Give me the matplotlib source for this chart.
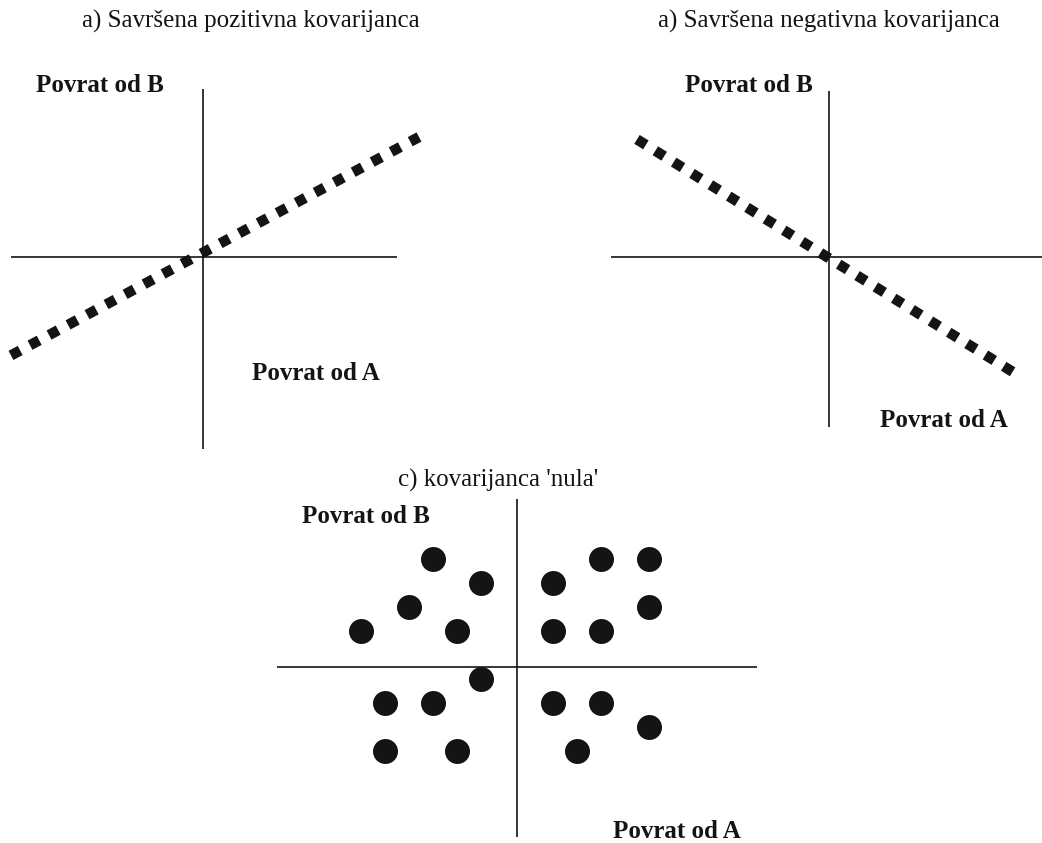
import matplotlib
matplotlib.use("Agg")
import matplotlib.pyplot as plt

W, H = 1042, 843
UNIT = 24.0  # pixels per data unit in every panel

plt.rcParams["font.family"] = ["Liberation Serif", "DejaVu Serif"]

# a) perfect positive covariance: returns of A vs returns of B
pos_arm_x = [-8.0, 8.1]
pos_arm_y = [-8.0, 7.0]
pos_ret_a = [-8.0, 9.0]
pos_ret_b = [-4.1, 5.0]

# b) perfect negative covariance
neg_arm_x = [-9.1, 8.9]
neg_arm_y = [-7.1, 6.9]
neg_ret_a = [-8.0, 8.0]
neg_ret_b = [4.9, -5.0]

# c) zero covariance: scattered observations
zero_arm_x = [-10.0, 10.0]
zero_arm_y = [-7.1, 7.0]
zero_ret_a = [-3.5, -1.5, -4.5, -6.5, -2.5, 3.5, 5.5, 1.5, 5.5, 1.5,
              3.5, -1.5, -5.5, -3.5, 1.5, 3.5, 5.5, -5.5, -2.5, 2.5]
zero_ret_b = [4.5, 3.5, 2.5, 1.5, 1.5, 4.5, 4.5, 3.5, 2.5, 1.5,
              1.5, -0.5, -1.5, -1.5, -1.5, -1.5, -2.5, -3.5, -3.5, -3.5]

titles = ["a) Savršena pozitivna kovarijanca",
          "a) Savršena negativna kovarijanca",
          "c) kovarijanca 'nula'"]
label_a = "Povrat od A"
label_b = "Povrat od B"

INK = "#141414"

fig = plt.figure(figsize=(W / 100, H / 100), dpi=100)
fig.patch.set_facecolor("white")


def panel_axes(ox, oy):
    # full-figure axes whose origin sits at pixel (ox, oy)
    ax = fig.add_axes([0, 0, 1, 1])
    ax.set_xlim(-ox / UNIT, (W - ox) / UNIT)
    ax.set_ylim(-(H - oy) / UNIT, oy / UNIT)
    ax.patch.set_alpha(0)
    ax.axis("off")
    return ax


def cross(ax, arm_x, arm_y):
    ax.plot(arm_x, [0, 0], color=INK, lw=1.2, solid_capstyle="butt")
    ax.plot([0, 0], arm_y, color=INK, lw=1.2, solid_capstyle="butt")


def fig_text(x, y, s, **kw):
    fig.text(x / W, 1 - y / H, s, color=INK, **kw)


def square_dots(ax, xs, ys):
    line, = ax.plot(xs, ys, color=INK, lw=7.5, solid_capstyle="butt",
                    dash_capstyle="butt")
    line.set_dashes((1.0, 1.07))


ax1 = panel_axes(203, 257)
cross(ax1, pos_arm_x, pos_arm_y)
square_dots(ax1, pos_ret_a, pos_ret_b)

ax2 = panel_axes(829, 257)
cross(ax2, neg_arm_x, neg_arm_y)
square_dots(ax2, neg_ret_a, neg_ret_b)

ax3 = panel_axes(517, 667)
cross(ax3, zero_arm_x, zero_arm_y)
ax3.plot(zero_ret_a, zero_ret_b, "o", color=INK, markersize=18,
         markeredgewidth=0)

title_kw = dict(fontsize=18, ha="center", va="baseline")
fig_text(251, 28, titles[0], **title_kw)
fig_text(829, 28, titles[1], **title_kw)
fig_text(498, 487, titles[2], **title_kw)

lab_kw = dict(fontsize=18, fontweight="bold", ha="left", va="baseline")
fig_text(36, 92, label_b, **lab_kw)
fig_text(252, 380, label_a, **lab_kw)
fig_text(685, 92, label_b, **lab_kw)
fig_text(880, 427, label_a, **lab_kw)
fig_text(302, 523, label_b, **lab_kw)
fig_text(613, 838, label_a, **lab_kw)

fig.savefig("out.png", dpi=100, facecolor="white")
